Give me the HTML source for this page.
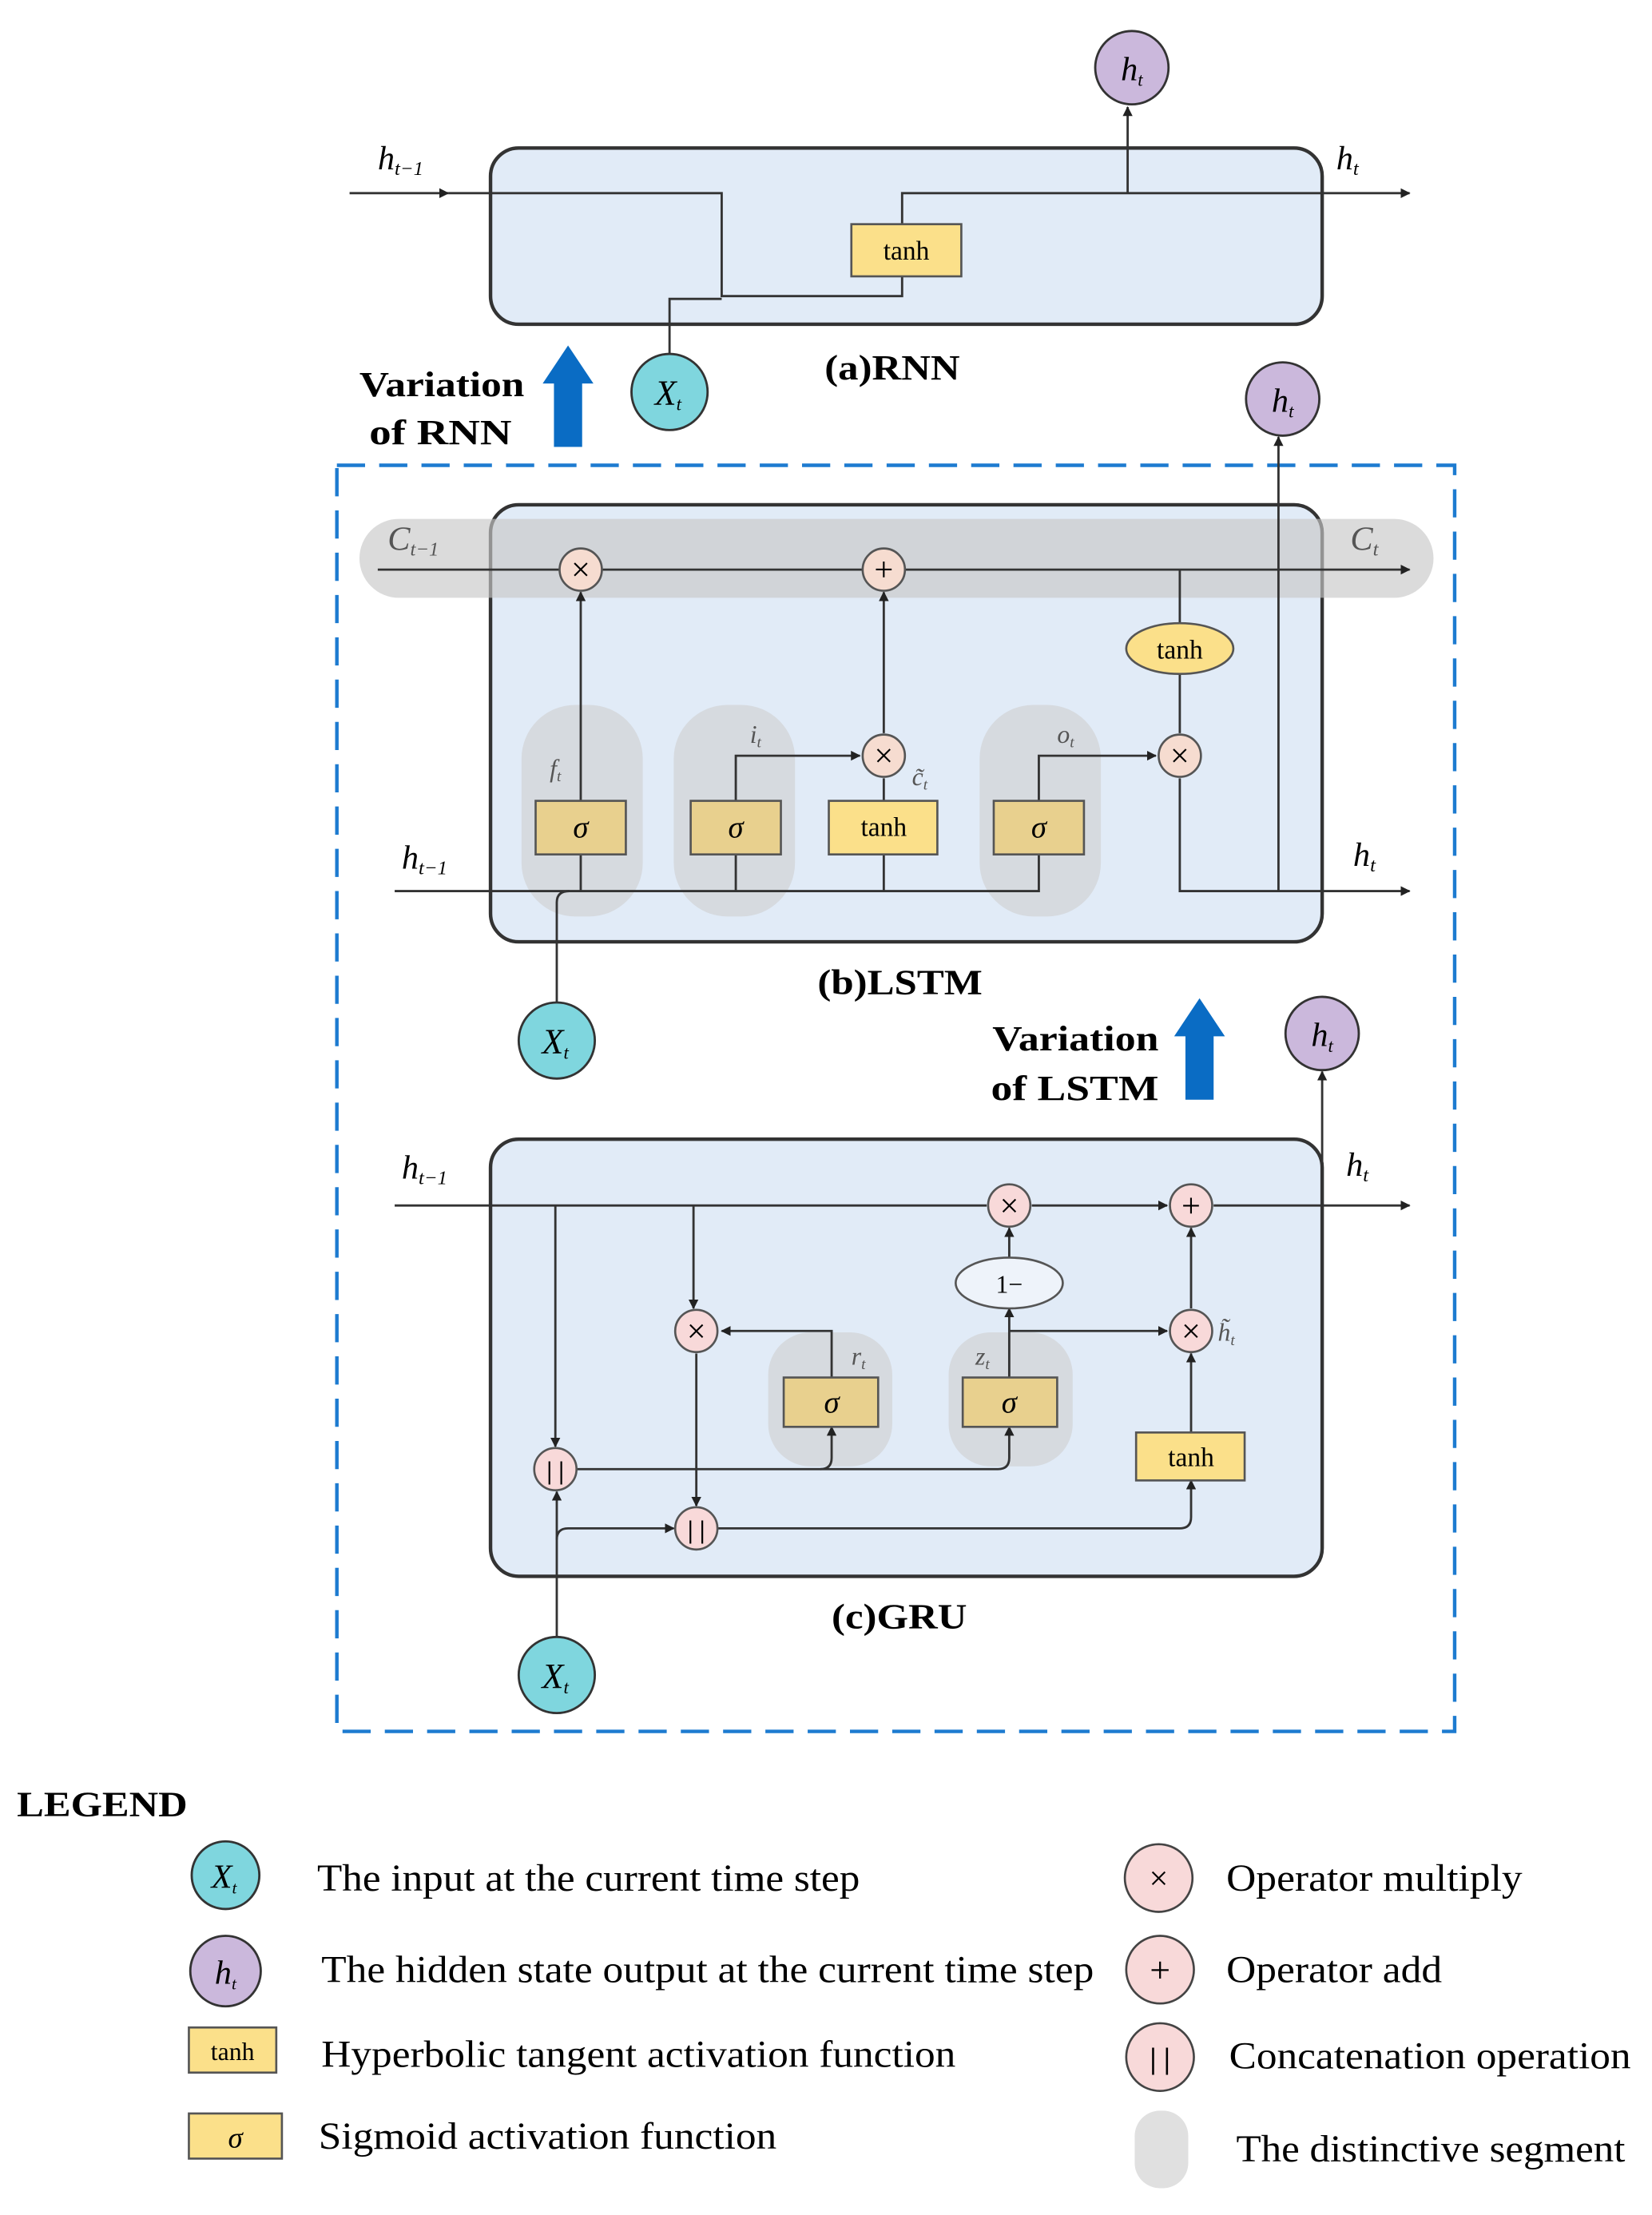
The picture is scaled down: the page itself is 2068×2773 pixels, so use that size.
<!DOCTYPE html>
<html><head><meta charset="utf-8"><style>html,body{margin:0;padding:0;background:#fff}svg{display:block}</style></head>
<body>
<svg width="2068" height="2773" viewBox="0 0 1172 1571" preserveAspectRatio="none" xmlns="http://www.w3.org/2000/svg" font-family="Liberation Serif, serif">
<defs>
<marker id="a" viewBox="0 0 10 10" refX="9" refY="5" markerWidth="7" markerHeight="7" orient="auto-start-reverse" markerUnits="userSpaceOnUse"><path d="M0,0L10,5L0,10z" fill="#222"/></marker>
</defs>
<rect width="1172" height="1571" fill="#fff"/>
<g stroke="#333" stroke-width="1.6" fill="none">
<rect x="348" y="105" width="590" height="125" rx="20" fill="#e1ebf7" stroke-width="2.5"/>
<path d="M248,137H318" marker-end="url(#a)"/>
<path d="M318,137H512V210H640V196"/>
<path d="M475,251V212H512"/>
<path d="M640,159V137H1000" marker-end="url(#a)"/>
<path d="M800,137V76" marker-end="url(#a)"/>
</g>
<rect x="604" y="159" width="78" height="37" fill="#fbe08a" stroke="#555" stroke-width="1.5"/>
<text x="643" y="184" font-size="19" text-anchor="middle">tanh</text>
<circle cx="803" cy="48" r="26" fill="#cbb8dc" stroke="#333" stroke-width="1.6"/>
<text x="803" y="57" font-size="24" font-style="italic" text-anchor="middle">h<tspan font-size="13" dy="4">t</tspan></text>
<circle cx="475" cy="278" r="27" fill="#7fd6de" stroke="#333" stroke-width="1.6"/>
<text x="474" y="287" font-size="25" font-style="italic" text-anchor="middle">X<tspan font-size="13" dy="4">t</tspan></text>
<text x="268" y="120" font-size="24" font-style="italic">h<tspan font-size="14" dy="4">t−1</tspan></text>
<text x="948" y="120" font-size="24" font-style="italic">h<tspan font-size="14" dy="4">t</tspan></text>
<text x="585" y="269" font-size="25" font-weight="bold" textLength="96" lengthAdjust="spacingAndGlyphs">(a)RNN</text>
<text x="255" y="281" font-size="25" font-weight="bold" textLength="117" lengthAdjust="spacingAndGlyphs">Variation</text>
<text x="262" y="315" font-size="25" font-weight="bold" textLength="101" lengthAdjust="spacingAndGlyphs">of  RNN</text>
<path d="M393,317V272H385L403,245L421,272H413V317Z" fill="#0a6cc4"/>

<rect x="239" y="330" width="793" height="898" fill="none" stroke="#1d7bd0" stroke-width="2.5" stroke-dasharray="20,10"/>

<rect x="348" y="358" width="590" height="310" rx="20" fill="#e1ebf7" stroke="#333" stroke-width="2.5"/>
<rect x="255" y="368" width="762" height="56" rx="28" fill="#c8c8c8" opacity="0.65"/>
<rect x="370" y="500" width="86" height="150" rx="38" fill="#cfcfcf" opacity="0.6"/>
<rect x="478" y="500" width="86" height="150" rx="38" fill="#cfcfcf" opacity="0.6"/>
<rect x="695" y="500" width="86" height="150" rx="38" fill="#cfcfcf" opacity="0.6"/>
<g stroke="#333" stroke-width="1.6" fill="none">
<path d="M268,404H1000" marker-end="url(#a)"/>
<path d="M412,420V568" marker-start="url(#a)"/>
<path d="M627,420V520" marker-start="url(#a)"/>
<path d="M837,404V442M837,478V520"/>
<path d="M837,552V632H1000" marker-end="url(#a)"/>
<path d="M280,632H737V606"/>
<path d="M412,606V632"/>
<path d="M522,606V632"/>
<path d="M627,606V632"/>
<path d="M395,712V640Q395,632 404,632"/>
<path d="M522,568V536H610" marker-end="url(#a)"/>
<path d="M627,568V552"/>
<path d="M737,568V536H820" marker-end="url(#a)"/>
<path d="M907,632V310" marker-end="url(#a)"/>
</g>
<g stroke="#555" stroke-width="1.5">
<circle cx="412" cy="404" r="15" fill="#f6dcd0"/>
<circle cx="627" cy="404" r="15" fill="#f6dcd0"/>
<circle cx="627" cy="536" r="15" fill="#f6dcd0"/>
<circle cx="837" cy="536" r="15" fill="#f6dcd0"/>
<ellipse cx="837" cy="460" rx="38" ry="18" fill="#fbe08a"/>
<rect x="380" y="568" width="64" height="38" fill="#e8d08e"/>
<rect x="490" y="568" width="64" height="38" fill="#e8d08e"/>
<rect x="588" y="568" width="77" height="38" fill="#fbe08a"/>
<rect x="705" y="568" width="64" height="38" fill="#e8d08e"/>
</g>
<g font-size="24" text-anchor="middle">
<text x="412" y="412">×</text><text x="627" y="412">+</text><text x="627" y="544">×</text><text x="837" y="544">×</text>
<text x="837" y="467" font-size="19">tanh</text>
<text x="412" y="594" font-style="italic" font-size="22">σ</text>
<text x="522" y="594" font-style="italic" font-size="22">σ</text>
<text x="627" y="593" font-size="19">tanh</text>
<text x="737" y="594" font-style="italic" font-size="22">σ</text>
</g>
<g font-style="italic" fill="#555">
<text x="390" y="551" font-size="18">f<tspan font-size="11" dy="3">t</tspan></text>
<text x="532" y="527" font-size="18">i<tspan font-size="11" dy="3">t</tspan></text>
<text x="750" y="527" font-size="18">o<tspan font-size="11" dy="3">t</tspan></text>
<text x="647" y="557" font-size="18">c̃<tspan font-size="11" dy="3">t</tspan></text>
</g>
<text x="275" y="390" font-size="24" font-style="italic" fill="#555">C<tspan font-size="14" dy="4">t−1</tspan></text>
<text x="958" y="390" font-size="24" font-style="italic" fill="#555">C<tspan font-size="14" dy="4">t</tspan></text>
<text x="285" y="616" font-size="24" font-style="italic">h<tspan font-size="14" dy="4">t−1</tspan></text>
<text x="960" y="614" font-size="24" font-style="italic">h<tspan font-size="14" dy="4">t</tspan></text>
<circle cx="910" cy="283" r="26" fill="#cbb8dc" stroke="#333" stroke-width="1.6"/>
<text x="910" y="292" font-size="24" font-style="italic" text-anchor="middle">h<tspan font-size="13" dy="4">t</tspan></text>
<circle cx="395" cy="738" r="27" fill="#7fd6de" stroke="#333" stroke-width="1.6"/>
<text x="394" y="747" font-size="25" font-style="italic" text-anchor="middle">X<tspan font-size="13" dy="4">t</tspan></text>
<text x="580" y="705" font-size="25" font-weight="bold" textLength="117" lengthAdjust="spacingAndGlyphs">(b)LSTM</text>
<text x="704" y="745" font-size="25" font-weight="bold" textLength="118" lengthAdjust="spacingAndGlyphs">Variation</text>
<text x="703" y="780" font-size="25" font-weight="bold" textLength="119" lengthAdjust="spacingAndGlyphs">of  LSTM</text>
<path d="M841,780V735H833L851,708L869,735H861V780Z" fill="#0a6cc4"/>

<rect x="348" y="808" width="590" height="310" rx="20" fill="#e1ebf7" stroke="#333" stroke-width="2.5"/>
<rect x="545" y="945" width="88" height="95" rx="30" fill="#cfcfcf" opacity="0.6"/>
<rect x="673" y="945" width="88" height="95" rx="30" fill="#cfcfcf" opacity="0.6"/>
<g stroke="#333" stroke-width="1.6" fill="none">
<path d="M280,855H700M732,855H828" marker-end="url(#a)"/>
<path d="M861,855H1000" marker-end="url(#a)"/>
<path d="M938,855V760" marker-end="url(#a)"/>
<path d="M394,855V1026" marker-end="url(#a)"/>
<path d="M492,855V928" marker-end="url(#a)"/>
<path d="M494,960V1068" marker-end="url(#a)"/>
<path d="M590,977V944H512" marker-end="url(#a)"/>
<path d="M716,977V928" marker-end="url(#a)"/>
<path d="M716,892V871" marker-end="url(#a)"/>
<path d="M716,944H828" marker-end="url(#a)"/>
<path d="M845,1016V960" marker-end="url(#a)"/>
<path d="M845,928V871" marker-end="url(#a)"/>
<path d="M409,1042H708Q716,1042 716,1034V1012" marker-end="url(#a)"/>
<path d="M582,1042Q590,1042 590,1034V1012" marker-end="url(#a)"/>
<path d="M509,1084H837Q845,1084 845,1076V1050" marker-end="url(#a)"/>
<path d="M395,1162V1058" marker-end="url(#a)"/>
<path d="M395,1092Q395,1084 403,1084H478" marker-end="url(#a)"/>
</g>
<g stroke="#555" stroke-width="1.5">
<circle cx="716" cy="855" r="15" fill="#f8d9d9"/>
<circle cx="845" cy="855" r="15" fill="#f8d9d9"/>
<circle cx="494" cy="944" r="15" fill="#f8d9d9"/>
<circle cx="845" cy="944" r="15" fill="#f8d9d9"/>
<circle cx="394" cy="1042" r="15" fill="#f8d9d9"/>
<circle cx="494" cy="1084" r="15" fill="#f8d9d9"/>
<ellipse cx="716" cy="910" rx="38" ry="18" fill="#eef3fa"/>
<rect x="556" y="977" width="67" height="35" fill="#e8d08e"/>
<rect x="683" y="977" width="67" height="35" fill="#e8d08e"/>
<rect x="806" y="1016" width="77" height="34" fill="#fbe08a"/>
</g>
<g font-size="24" text-anchor="middle">
<text x="716" y="863">×</text><text x="845" y="863">+</text><text x="494" y="952">×</text><text x="845" y="952">×</text>
<text x="394" y="1049" font-size="18" font-weight="bold">| |</text><text x="494" y="1091" font-size="18" font-weight="bold">| |</text>
<text x="716" y="917" font-size="18">1−</text>
<text x="590" y="1002" font-style="italic" font-size="22">σ</text>
<text x="716" y="1002" font-style="italic" font-size="22">σ</text>
<text x="845" y="1040" font-size="19">tanh</text>
</g>
<g font-style="italic" fill="#555">
<text x="604" y="968" font-size="18">r<tspan font-size="11" dy="3">t</tspan></text>
<text x="692" y="968" font-size="18">z<tspan font-size="11" dy="3">t</tspan></text>
<text x="864" y="951" font-size="18">h̃<tspan font-size="11" dy="3">t</tspan></text>
</g>
<text x="285" y="836" font-size="24" font-style="italic">h<tspan font-size="14" dy="4">t−1</tspan></text>
<text x="955" y="834" font-size="24" font-style="italic">h<tspan font-size="14" dy="4">t</tspan></text>
<circle cx="938" cy="733" r="26" fill="#cbb8dc" stroke="#333" stroke-width="1.6"/>
<text x="938" y="742" font-size="24" font-style="italic" text-anchor="middle">h<tspan font-size="13" dy="4">t</tspan></text>
<circle cx="395" cy="1188" r="27" fill="#7fd6de" stroke="#333" stroke-width="1.6"/>
<text x="394" y="1197" font-size="25" font-style="italic" text-anchor="middle">X<tspan font-size="13" dy="4">t</tspan></text>
<text x="590" y="1155" font-size="25" font-weight="bold" textLength="96" lengthAdjust="spacingAndGlyphs">(c)GRU</text>

<text x="12" y="1288" font-size="25" font-weight="bold" textLength="121" lengthAdjust="spacingAndGlyphs">LEGEND</text>
<circle cx="160" cy="1330" r="24" fill="#7fd6de" stroke="#333" stroke-width="1.6"/>
<text x="159" y="1339" font-size="24" font-style="italic" text-anchor="middle">X<tspan font-size="12" dy="4">t</tspan></text>
<text x="225" y="1341" font-size="27" textLength="385" lengthAdjust="spacingAndGlyphs">The input at the current time step</text>
<circle cx="160" cy="1398" r="25" fill="#cbb8dc" stroke="#333" stroke-width="1.6"/>
<text x="160" y="1407" font-size="24" font-style="italic" text-anchor="middle">h<tspan font-size="12" dy="4">t</tspan></text>
<text x="228" y="1406" font-size="27" textLength="548" lengthAdjust="spacingAndGlyphs">The hidden state output at the current time step</text>
<rect x="134" y="1438" width="62" height="32" fill="#fbe08a" stroke="#555" stroke-width="1.5"/>
<text x="165" y="1461" font-size="18" text-anchor="middle">tanh</text>
<text x="228" y="1466" font-size="27" textLength="450" lengthAdjust="spacingAndGlyphs">Hyperbolic tangent activation function</text>
<rect x="134" y="1499" width="66" height="32" fill="#fbe08a" stroke="#555" stroke-width="1.5"/>
<text x="167" y="1523" font-size="21" font-style="italic" text-anchor="middle">σ</text>
<text x="226" y="1524" font-size="27" textLength="325" lengthAdjust="spacingAndGlyphs">Sigmoid activation function</text>
<circle cx="822" cy="1332" r="24" fill="#f8d9d9" stroke="#444" stroke-width="1.5"/>
<text x="822" y="1340" font-size="24" text-anchor="middle">×</text>
<text x="870" y="1341" font-size="27" textLength="210" lengthAdjust="spacingAndGlyphs">Operator multiply</text>
<circle cx="823" cy="1397" r="24" fill="#f8d9d9" stroke="#444" stroke-width="1.5"/>
<text x="823" y="1406" font-size="26" text-anchor="middle">+</text>
<text x="870" y="1406" font-size="27" textLength="153" lengthAdjust="spacingAndGlyphs">Operator add</text>
<circle cx="823" cy="1459" r="24" fill="#f8d9d9" stroke="#444" stroke-width="1.5"/>
<text x="823" y="1467" font-size="21" font-weight="bold" text-anchor="middle">| |</text>
<text x="872" y="1467" font-size="27" textLength="285" lengthAdjust="spacingAndGlyphs">Concatenation operation</text>
<rect x="805" y="1497" width="38" height="55" rx="18" fill="#e0e0e0"/>
<text x="877" y="1533" font-size="27" textLength="276" lengthAdjust="spacingAndGlyphs">The distinctive segment</text>
</svg>
</body></html>
